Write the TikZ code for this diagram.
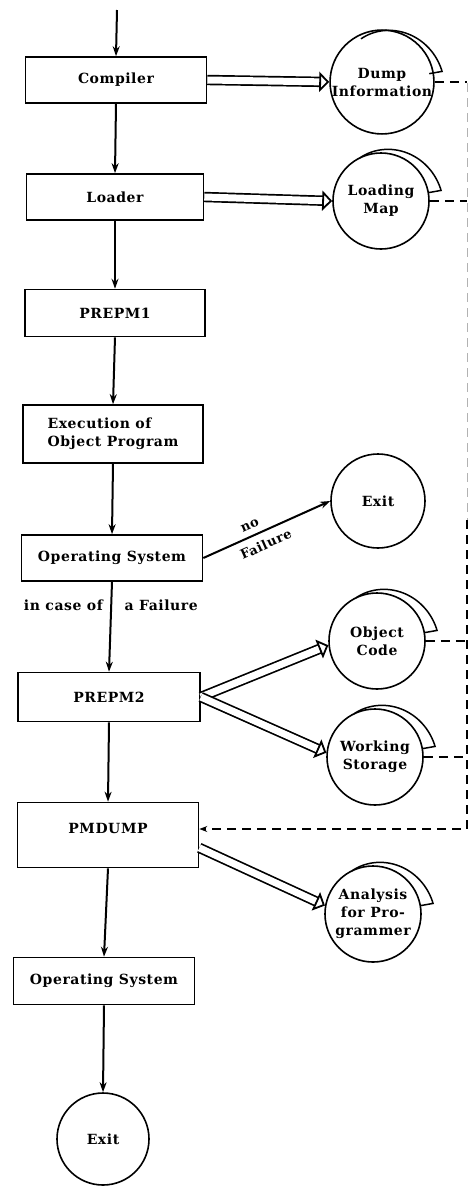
\documentclass[tikz,border=0pt]{standalone}
\usepackage{fontspec}
\setmainfont{DejaVu Serif}[LetterSpace=4]
\usetikzlibrary{arrows.meta,calc}
\newcommand{\dfont}{\fontsize{14}{18}\selectfont\bfseries}
\newcommand{\sfont}{\fontsize{13}{15}\selectfont\bfseries}
\newcommand{\tapemark}[1]{%
  \draw[line width=1.5pt, shift={(#1.center)}]
    plot[domain=116:10, samples=40, smooth]
      ({(48+13*(116-\x)/106)*cos(\x)}, {-(48+13*(116-\x)/106)*sin(\x)})
    -- ({48*cos(10)}, {-48*sin(10)});}
\begin{document}
\begin{tikzpicture}[x=1pt,y=-1pt,
  every node/.style={font=\dfont},
  box/.style={draw, line width=1.6pt, minimum width=181pt, minimum height=46pt, inner sep=2pt, align=center},
  disk/.style={draw, circle, line width=1.6pt, minimum size=96pt, inner sep=0pt, align=center},
  flow/.style={line width=2pt, -{Stealth[length=10pt,width=7pt]}},
  dbl/.style={double distance=7pt, line width=1.7pt, -{Triangle[open,length=10pt,width=20pt,line width=1.8pt]}},
  rail/.style={line width=1.8pt, dash pattern=on 9pt off 6pt},
  faintrail/.style={line width=1pt, draw=black!30, dash pattern=on 9pt off 6pt},
  lbl/.style={font=\sfont}
]
\useasboundingbox (0,0) rectangle (471,1186);

% main column
\node[box] (compiler) at (116,80) {Compiler};
\node[box, minimum width=177pt] (loader) at (115,197) {Loader};
\node[box, minimum width=180pt, minimum height=47pt] (prepm1) at (115,313) {PREPM1};
\node[box, minimum width=180pt, minimum height=58pt, align=left] (exec) at (113,434) {Execution of\\Object Program};
\node[box] (os1) at (112,558) {Operating System};
\node[box, minimum width=182pt, minimum height=49pt] (prepm2) at (109,697) {PREPM2};
\node[box, minimum height=65pt, text depth=14pt] (pmdump) at (108,835) {PMDUMP};
\node[box, minimum height=47pt] (os2) at (104,981) {Operating System};
\node[disk, minimum size=92pt] (exit2) at (103,1139) {Exit};

% right column
\node[disk] (dump) at (382,82) {Dump\\Information};
\node[disk] (loadmap) at (381,201) {Loading\\Map};
\node[disk, minimum size=94pt] (exit1) at (378,501) {Exit};
\node[disk] (objcode) at (377,641) {Object\\Code};
\node[disk] (workst) at (375,757) {Working\\Storage};
\node[disk] (analysis) at (373,914) {Analysis\\for Pro-\\grammer};

\tapemark{dump}
\tapemark{loadmap}
\tapemark{objcode}
\tapemark{workst}
\tapemark{analysis}

% main flow
\coordinate (start) at (117,10);
\draw[flow] (start) -- (compiler.north);
\draw[flow] (compiler.south) -- (loader.north);
\draw[flow] (loader.south) -- (prepm1.north);
\draw[flow] (prepm1.south) -- (exec.north);
\draw[flow] (exec.south) -- (os1.north);
\draw[flow] (os1.south) -- (prepm2.north)
  node[pos=0.26, left, xshift=-4pt] {in case of}
  node[pos=0.26, right, xshift=9pt] {a Failure};
\draw[flow] (prepm2.south) -- (pmdump.north);
\draw[flow] (pmdump.south) -- (os2.north);
\draw[flow] (os2.south) -- (exit2.north);

\draw[flow] (os1.east) -- (exit1.west)
  node[pos=0.4, lbl, rotate=24, yshift=10pt] {no}
  node[pos=0.45, lbl, rotate=24, yshift=-13pt] {Failure};

% outputs
\draw[dbl] (compiler.east) -- (dump.west);
\draw[dbl] (loader.east) -- (loadmap.west);
\draw[dbl] (prepm2.east) -- (objcode.185);
\draw[dbl] (prepm2.east) -- (workst.175);
\draw[dbl] (pmdump.-8) -- (analysis.170);

% dashed feedback
\coordinate (rtop) at (467,83);
\coordinate (rmid) at (467,520);
\coordinate (rbot) at (467,829);
\draw[rail] (dump.east) -- (dump.east -| rtop);
\draw[rail] (loadmap.east) -- (loadmap.east -| rtop);
\draw[faintrail] (rtop) -- (rmid);
\draw[rail] (objcode.east) -- (objcode.east -| rtop);
\draw[rail] (workst.east) -- (workst.east -| rtop);
\draw[rail, -{Stealth[length=8pt,width=6pt]}] (rmid) -- (rbot) -- (pmdump.east |- rbot);
\end{tikzpicture}
\end{document}
